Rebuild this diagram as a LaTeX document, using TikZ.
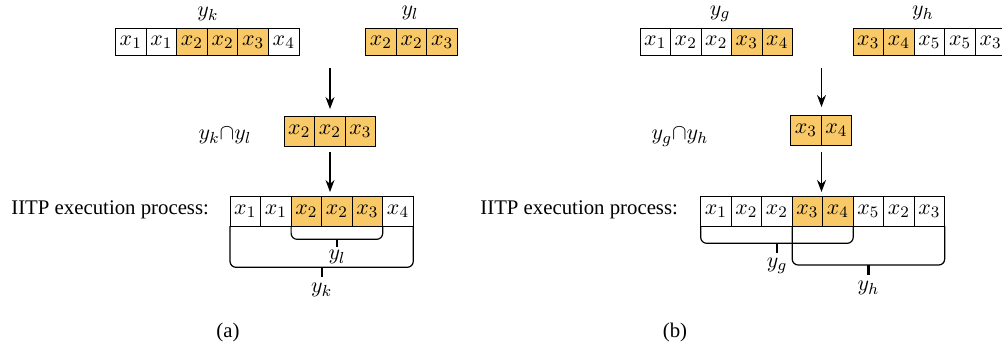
\documentclass[tikz,border=0pt]{standalone}
\usepackage{fontspec}
\setmainfont{Liberation Serif}
\usetikzlibrary{arrows.meta}
\definecolor{hit}{RGB}{249,201,104}
\begin{document}
\begin{tikzpicture}[x=0.5pt,y=-0.5pt,
  every node/.style={font=\fontsize{11}{13}\selectfont},
  txt/.style={font=\fontsize{10.4}{12}\selectfont},
  cell/.style={draw=black,line width=0.5pt,minimum width=15.25pt,minimum height=15pt,inner sep=0pt,outer sep=0pt,anchor=west},
  topcell/.style={cell,minimum height=13.5pt},
  on/.style={fill=hit},
  flow/.style={line width=0.6pt,-{Stealth[length=6pt,width=4.5pt]}},
  brace/.style={line width=0.6pt,rounded corners=3pt},
  tick/.style={line width=1.1pt}]
\useasboundingbox (0,0) rectangle (1002,349);
\clip (0,0) rectangle (1002,349);

% ---------- (a) ----------
% y_k
\foreach \t/\s [count=\i from 0] in {1/,1/,2/on,2/on,3/on,4/}
  \node[topcell,\s] (ak\i) at (115.5+30.6*\i,42) {$x_{\t}$};
\node (lk) at (208,14) {$y_k$};
% y_l
\foreach \t [count=\i from 0] in {2,2,3}
  \node[topcell,on] (al\i) at (365.7+30.6*\i,42) {$x_{\t}$};
\node (ll) at (410,13) {$y_l$};
% intersection
\foreach \t [count=\i from 0] in {2,2,3}
  \node[cell,on] (ac\i) at (284+30.6*\i,131.5) {$x_{\t}$};
\node (lkl) at (225,136) {$y_k{\cap}y_l$};
% execution sequence
\foreach \t/\s [count=\i from 0] in {1/,1/,2/on,2/on,3/on,4/}
  \node[cell,\s] (ad\i) at (230+30.55*\i,211) {$x_{\t}$};
\node[txt,anchor=east] (ta) at (216,210) {IITP execution process:};

\coordinate (a0) at (330,68);
\coordinate (a1) at (330,109);
\coordinate (a2) at (330,152);
\coordinate (a3) at (330,192);
\draw[flow] (a0) -- (a1);
\draw[flow] (a2) -- (a3);

% braces under the sequence
\draw[brace] (ad2.south west) |- (337,239.3) -| (ad4.south east);
\draw[tick] (337,239.3) -- (337,247);
\node (bl) at (337,257) {$y_l$};
\draw[brace] (ad0.south west) |- (321.7,267.3) -| (ad5.south east);
\draw[tick] (321.7,267.3) -- (321.7,277);
\node (bk) at (321.7,290) {$y_k$};

\node[txt] (capa) at (228,332) {(a)};

% ---------- (b) ----------
% y_g
\foreach \t/\s [count=\i from 0] in {1/,2/,2/,3/on,4/on}
  \node[topcell,\s] (bg\i) at (640+30.5*\i,42) {$x_{\t}$};
\node (lg) at (720,14) {$y_g$};
% y_h
\foreach \t/\s [count=\i from 0] in {3/on,4/on,5/,5/,3/}
  \node[topcell,\s] (bh\i) at (853+30.6*\i,42) {$x_{\t}$};
\node (lh) at (923,13) {$y_h$};
% intersection
\foreach \t [count=\i from 0] in {3,4}
  \node[cell,on] (bc\i) at (790.7+30.5*\i,130) {$x_{\t}$};
\node (lgh) at (680,137) {$y_g{\cap}y_h$};
% execution sequence
\foreach \t/\s [count=\i from 0] in {1/,2/,2/,3/on,4/on,5/,2/,3/}
  \node[cell,\s] (bd\i) at (700.7+30.5*\i,211) {$x_{\t}$};
\node[txt,anchor=east] (tb) at (685,210) {IITP execution process:};

\coordinate (b0) at (821.5,68);
\coordinate (b1) at (821.5,107);
\coordinate (b2) at (821.5,152);
\coordinate (b3) at (821.5,192);
\draw[flow] (b0) -- (b1);
\draw[flow] (b2) -- (b3);

% braces under the sequence
\draw[brace] (bd0.south west) |- (777,243.3) -| (bd4.south east);
\draw[tick] (777,243.3) -- (777,253);
\node (bg) at (777,266) {$y_g$};
\draw[brace] (bd3.south west) |- (868.5,265) -| (bd7.south east);
\draw[tick] (868.5,265) -- (868.5,275);
\node (bh) at (868.5,288) {$y_h$};

\node[txt] (capb) at (675,332) {(b)};
\end{tikzpicture}
\end{document}
